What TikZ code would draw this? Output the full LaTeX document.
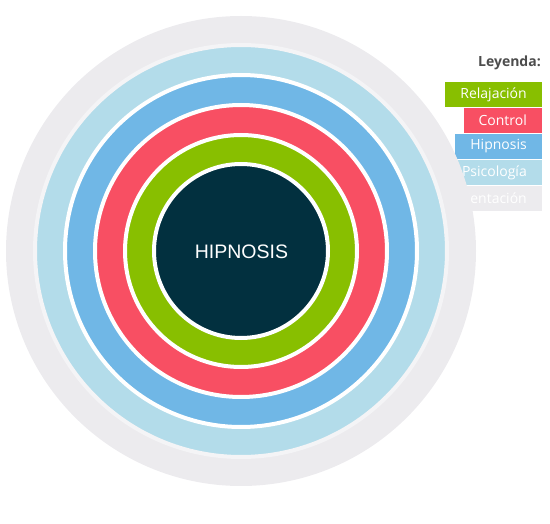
\documentclass[tikz,border=0pt]{standalone}
\usepackage{fontspec}
\setmainfont{Open Sans}
\newfontfamily\arialfont{Liberation Sans}
\usetikzlibrary{positioning}

\definecolor{ringgray}{HTML}{ECEBEE}
\definecolor{ringedge}{HTML}{F4F4F6}
\definecolor{ringlight}{HTML}{B3DCEA}
\definecolor{ringblue}{HTML}{70B7E6}
\definecolor{ringred}{HTML}{F84F63}
\definecolor{ringgreen}{HTML}{88BF00}
\definecolor{coredark}{HTML}{02303F}
\definecolor{legendtext}{HTML}{4D4D4D}

\begin{document}
\begin{tikzpicture}[
  x=1pt, y=-1pt,
  legbox/.style={
    rectangle, anchor=east, inner xsep=15pt, inner ysep=0pt,
    minimum height=25pt, text=white,
    font=\fontsize{14}{16}\selectfont
  },
  ring/.style={
    draw=white, line width=4pt
  }
]
\useasboundingbox (0,0) rectangle (550,524);

% Legend (lies behind the rings)
\node[anchor=base east, text=legendtext, inner sep=0pt,
  font=\fontsize{14}{16}\selectfont\bfseries] (legtitle) at (541,67) {Leyenda:};

\node[legbox, fill=ringgreen] (legrel) at (542,94.5) {Relajación};
\node[legbox, fill=ringred] (legctl) at (542,120.5) {Control};
\node[legbox, fill=ringblue] (leghip) at (542,146.5) {Hipnosis};
\node[legbox, fill=ringlight] (legpsi) at (542,172.5) {Psicología};
\node[legbox, fill=ringgray] (legori) at (542,198.5) {Orientación};

% Concentric rings
\fill[ringgray] (241,251) circle (235pt);
\filldraw[ring, draw=ringedge, fill=ringlight] (241,251) circle (206pt);
\filldraw[ring, fill=ringblue] (241,251) circle (176pt);
\filldraw[ring, fill=ringred] (241,251) circle (146pt);
\filldraw[ring, fill=ringgreen] (241,251) circle (116pt);
\filldraw[ring, fill=coredark] (241,251) circle (87pt);

\node[text=white, font=\arialfont\fontsize{19.5}{22}\selectfont] (core) at (241.5,251.5) {HIPNOSIS};

\end{tikzpicture}
\end{document}
